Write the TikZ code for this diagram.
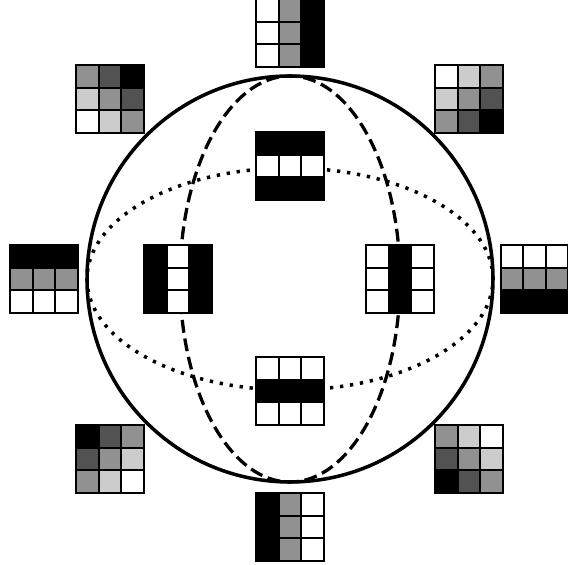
\documentclass[tikz,border=0pt]{standalone}
\usetikzlibrary{calc}

% one 3x3 patch of grey cells, values row by row
\newcommand{\patch}[2]{%
  \begin{scope}[shift={(#1)}]
    \foreach \v [count=\i from 0] in {#2} {
      \pgfmathtruncatemacro\cx{mod(\i,3)}
      \pgfmathtruncatemacro\ry{\i/3}
      \filldraw[cell,fill=black!\v] (\cx*22.6-33.9,33.9-\ry*22.6) rectangle ++(22.6,-22.6);
    }
  \end{scope}}

\tikzset{
  cell/.style={draw=black,line width=1.6pt},
  sphere/.style={line width=3pt},
  meridian/.style={line width=2.8pt,dash pattern=on 11pt off 5pt},
  equator/.style={line width=3pt,dash pattern=on 2.8pt off 5.8pt}
}

\begin{document}
\begin{tikzpicture}[x=0.03cm,y=0.03cm]
\useasboundingbox (-290,-285) rectangle (278,279);
\coordinate (o) at (0,0);
\draw[sphere] (o) circle (203);
\draw[meridian] (o) ellipse (110 and 203);
\draw[equator] (o) ellipse (203 and 111);
% outer ring
\coordinate (n) at (0,246);
\coordinate (ne) at (179,180);
\coordinate (e) at (244.5,0);
\coordinate (se) at (179,-180);
\coordinate (s) at (0,-248);
\coordinate (sw) at (-180,-180);
\coordinate (w) at (-246,0);
\coordinate (nw) at (-180,180);
% inner patches
\coordinate (in) at (0,113);
\coordinate (ie) at (110,0);
\coordinate (is) at (0,-112);
\coordinate (iw) at (-112,0);
\patch{n}{0,43,100,0,43,100,0,43,100}
\patch{nw}{43,68,100,20,43,68,0,20,43}
\patch{ne}{0,20,43,20,43,68,43,68,100}
\patch{w}{100,100,100,43,43,43,0,0,0}
\patch{e}{0,0,0,43,43,43,100,100,100}
\patch{sw}{100,68,43,68,43,20,43,20,0}
\patch{se}{43,20,0,68,43,20,100,68,43}
\patch{s}{100,43,0,100,43,0,100,43,0}
\patch{in}{100,100,100,0,0,0,100,100,100}
\patch{iw}{100,0,100,100,0,100,100,0,100}
\patch{ie}{0,100,0,0,100,0,0,100,0}
\patch{is}{0,0,0,100,100,100,0,0,0}
\end{tikzpicture}
\end{document}
